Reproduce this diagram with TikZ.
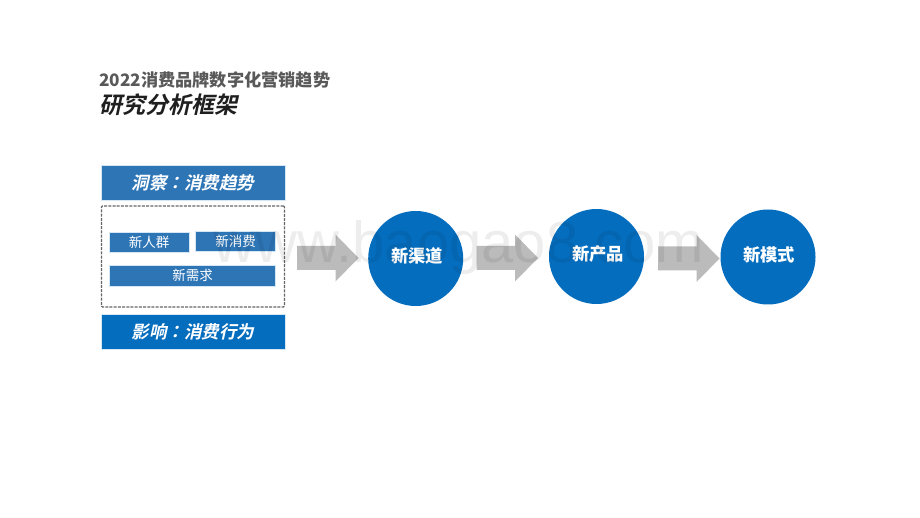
\documentclass[tikz,border=0pt]{standalone}
\usepackage{fontspec}
\setmainfont{Noto Sans CJK SC}
\newfontfamily\cjkslant{Noto Sans CJK SC}[FakeSlant=0.22,BoldFont={Noto Sans CJK SC Bold}]
\newfontfamily\cjkcolon{Noto Sans CJK TC}[FakeSlant=0.22,BoldFont={Noto Sans CJK TC Bold}]
\newfontfamily\wmfont{Liberation Sans}
\definecolor{midblue}{HTML}{2E75B6}
\definecolor{deepblue}{HTML}{056DBE}
\definecolor{arrowgray}{HTML}{BBBBBB}
\definecolor{titlegray}{HTML}{595959}
\definecolor{ink}{HTML}{1F1F1F}
\definecolor{paleedge}{HTML}{D5E7F5}
\tikzset{
  x=1pt,y=-1pt,
  banner/.style={fill=#1,draw=paleedge,line width=.4pt,inner sep=0pt,minimum width=184pt,minimum height=35pt,text=white,font=\cjkslant\bfseries\fontsize{17.5}{20}\selectfont},
  tagbox/.style={fill=midblue,draw=paleedge,line width=.4pt,inner sep=0pt,minimum height=20pt,text=white,font=\fontsize{13.5}{16}\selectfont},
  stagecircle/.style={circle,fill=deepblue,inner sep=0pt,minimum size=95pt},
  stagetext/.style={inner sep=0pt,text=white,font=\bfseries\fontsize{17.3}{20}\selectfont},
  flowarrow/.style={fill=arrowgray,draw=none},
  framebox/.style={draw=black!60,line width=1.1pt,rounded corners=1pt,dash pattern=on 3pt off 1.2pt,inner sep=0pt,minimum width=183pt,minimum height=101pt}
}
\newcommand{\blockarrow}[2]{\fill[flowarrow,shift={(#1,#2)}] (0,-12) -- (38.5,-12) -- (38.5,-23.5) -- (61.5,0) -- (38.5,23.5) -- (38.5,12) -- (0,12) -- cycle;}
\begin{document}
\begin{tikzpicture}
\useasboundingbox (0,0) rectangle (920,518);
\fill[white] (0,0) rectangle (920,518);
\node[anchor=west,inner sep=0pt,text=titlegray,font=\bfseries\fontsize{17.2}{20}\selectfont] (title) at (99,80) {2022消费品牌数字化营销趋势};
\node[anchor=west,inner sep=0pt,text=ink,font=\cjkslant\bfseries\fontsize{23}{26}\selectfont] (subtitle) at (99,105) {研究分析框架};
\node[banner=midblue] (insight) at (193,182.5) {洞察{\cjkcolon ：}消费趋势};
\node[framebox] (frame) at (193,256.5) {};
\node[tagbox,minimum width=80pt] (people) at (149,242) {新人群};
\node[tagbox,minimum width=80pt] (spend) at (235.5,241) {新消费};
\node[tagbox,minimum width=166pt,minimum height=21pt] (need) at (192.5,275.5) {新需求};
\node[banner=deepblue] (impact) at (193,331.5) {影响{\cjkcolon ：}消费行为};
\blockarrow{297}{258}
\blockarrow{476.5}{258}
\blockarrow{658}{258.5}
\node[stagecircle] (channel) at (415.7,258.5) {};
\node[stagecircle] (product) at (596.5,256.5) {};
\node[stagecircle] (mode) at (768,257) {};
\node[stagetext] (channeltext) at (417,256) {新渠道};
\node[stagetext] (producttext) at (598,254) {新产品};
\node[stagetext] (modetext) at (769,255) {新模式};
\node[anchor=base,inner sep=0pt,text=black,opacity=.07,font=\wmfont\fontsize{58}{60}\selectfont] (mark) at (459,263) {www.baogao8.com};
\end{tikzpicture}
\end{document}
